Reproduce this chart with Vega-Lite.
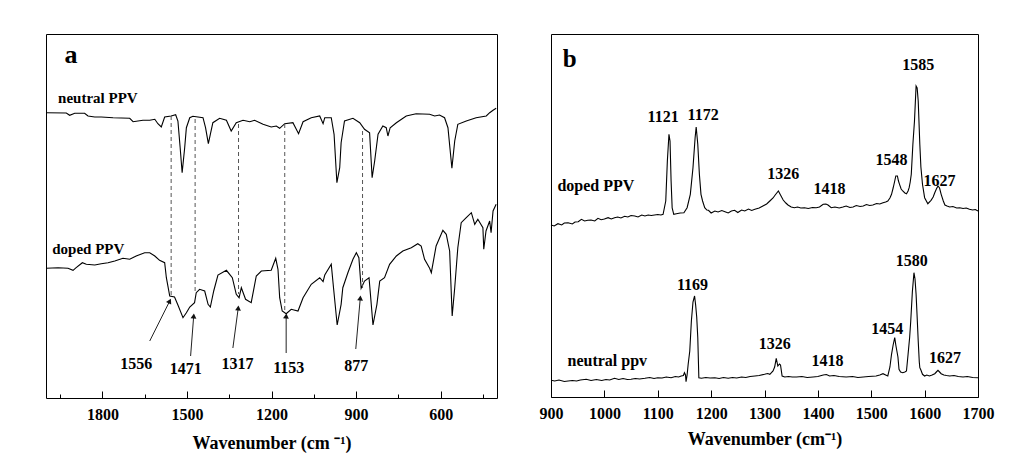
{
  "$schema": "https://vega.github.io/schema/vega-lite/v6.json",
  "background": "white",
  "padding": {"left": 43, "top": 33, "right": 0, "bottom": 0},
  "bounds": "flush",
  "spacing": 54,
  "config": {
    "view": {"stroke": "black", "strokeWidth": 1},
    "font": "Liberation Serif",
    "axisX": {
      "domain": false, "grid": false, "ticks": true, "tickColor": "black", "tickWidth": 1,
      "labelFont": "Liberation Serif", "labelFontSize": 16, "labelFontWeight": "bold", "labelColor": "black",
      "titleFont": "Liberation Serif", "titleFontSize": 18, "titleFontWeight": "bold", "titleColor": "black",
      "labelFlush": false, "labelOverlap": false, "format": "d", "labelPadding": 15, "titlePadding": 9
    }
  },
  "datasets": {
    "a_neutral": [
      {"wn":1999,"v":285.3},{"wn":1928,"v":285},{"wn":1916,"v":282.7},{"wn":1898,"v":284.7},{"wn":1863,"v":284.7},{"wn":1851,"v":282},{"wn":1827,"v":281},{"wn":1804,"v":281},{"wn":1762,"v":280.3},{"wn":1703,"v":279.7},{"wn":1691,"v":276.3},{"wn":1656,"v":277.7},{"wn":1632,"v":277.7},{"wn":1614,"v":278.7},{"wn":1603,"v":274.3},{"wn":1591,"v":271},{"wn":1579,"v":281},{"wn":1556,"v":282},{"wn":1540,"v":283.3},{"wn":1532,"v":277},{"wn":1524,"v":250.3},{"wn":1517,"v":225.3},{"wn":1508,"v":250.3},{"wn":1502,"v":270.3},{"wn":1490,"v":280.3},{"wn":1479,"v":281.7},{"wn":1443,"v":280.3},{"wn":1434,"v":270.3},{"wn":1424,"v":254.3},{"wn":1417,"v":263.7},{"wn":1408,"v":275.3},{"wn":1384,"v":279.7},{"wn":1360,"v":277.7},{"wn":1343,"v":267},{"wn":1325,"v":275.3},{"wn":1301,"v":277.7},{"wn":1277,"v":276.3},{"wn":1260,"v":277.7},{"wn":1230,"v":273.7},{"wn":1201,"v":271},{"wn":1183,"v":272},{"wn":1171,"v":269.7},{"wn":1153,"v":274.3},{"wn":1124,"v":275.3},{"wn":1112,"v":268.7},{"wn":1104,"v":264.3},{"wn":1088,"v":276.3},{"wn":1059,"v":280.3},{"wn":1029,"v":282},{"wn":1017,"v":274.3},{"wn":1011,"v":280.3},{"wn":988,"v":280.3},{"wn":978,"v":263.7},{"wn":968,"v":215.3},{"wn":958,"v":230.3},{"wn":953,"v":255.3},{"wn":941,"v":277},{"wn":911,"v":279.7},{"wn":887,"v":275.3},{"wn":870,"v":268.7},{"wn":852,"v":265.3},{"wn":843,"v":220.3},{"wn":834,"v":237},{"wn":822,"v":263.7},{"wn":805,"v":272},{"wn":793,"v":270.3},{"wn":787,"v":262},{"wn":779,"v":270.3},{"wn":757,"v":275.3},{"wn":722,"v":282},{"wn":687,"v":284.3},{"wn":639,"v":283.7},{"wn":621,"v":282},{"wn":604,"v":283},{"wn":586,"v":280.3},{"wn":574,"v":270.3},{"wn":560,"v":229.7},{"wn":550,"v":257},{"wn":539,"v":273.7},{"wn":509,"v":277},{"wn":474,"v":280.3},{"wn":438,"v":282},{"wn":426,"v":285.3},{"wn":414,"v":287.7},{"wn":403,"v":289.7}
    ],
    "a_doped": [
      {"wn":1999,"v":129.7},{"wn":1957,"v":130.3},{"wn":1922,"v":129.7},{"wn":1904,"v":127.7},{"wn":1893,"v":130.3},{"wn":1871,"v":135.3},{"wn":1857,"v":133.7},{"wn":1827,"v":133},{"wn":1804,"v":134.3},{"wn":1780,"v":135.3},{"wn":1756,"v":137},{"wn":1727,"v":139.7},{"wn":1703,"v":138.7},{"wn":1680,"v":142},{"wn":1650,"v":145.3},{"wn":1632,"v":145.3},{"wn":1614,"v":142},{"wn":1597,"v":137.7},{"wn":1579,"v":135.3},{"wn":1573,"v":120.3},{"wn":1561,"v":102},{"wn":1544,"v":101},{"wn":1532,"v":93},{"wn":1514,"v":80.3},{"wn":1502,"v":85.3},{"wn":1490,"v":91},{"wn":1473,"v":95.3},{"wn":1467,"v":105.3},{"wn":1455,"v":108.7},{"wn":1437,"v":107},{"wn":1425,"v":93.7},{"wn":1417,"v":91},{"wn":1405,"v":107},{"wn":1390,"v":123},{"wn":1360,"v":127.7},{"wn":1339,"v":120.3},{"wn":1325,"v":103.7},{"wn":1315,"v":100.3},{"wn":1307,"v":110.3},{"wn":1292,"v":98.7},{"wn":1272,"v":95.3},{"wn":1254,"v":122},{"wn":1236,"v":127},{"wn":1201,"v":127.7},{"wn":1185,"v":139.7},{"wn":1177,"v":128.7},{"wn":1171,"v":100.3},{"wn":1162,"v":87},{"wn":1148,"v":84.3},{"wn":1130,"v":88.7},{"wn":1106,"v":87},{"wn":1088,"v":100.3},{"wn":1059,"v":113.7},{"wn":1029,"v":120.3},{"wn":1017,"v":116.3},{"wn":1011,"v":123},{"wn":988,"v":133.7},{"wn":980,"v":110.3},{"wn":967,"v":73},{"wn":953,"v":93.7},{"wn":947,"v":110.3},{"wn":929,"v":125.3},{"wn":911,"v":138.7},{"wn":899,"v":145.3},{"wn":890,"v":140.3},{"wn":882,"v":109.7},{"wn":870,"v":117},{"wn":854,"v":120.3},{"wn":850,"v":107},{"wn":840,"v":73},{"wn":826,"v":93.7},{"wn":816,"v":117},{"wn":799,"v":120.3},{"wn":781,"v":133.7},{"wn":757,"v":142},{"wn":734,"v":147},{"wn":704,"v":150.3},{"wn":681,"v":154.3},{"wn":669,"v":152},{"wn":657,"v":138.7},{"wn":639,"v":129.7},{"wn":633,"v":125.3},{"wn":616,"v":152},{"wn":592,"v":167.7},{"wn":580,"v":163.7},{"wn":568,"v":147},{"wn":559,"v":82},{"wn":550,"v":110.3},{"wn":539,"v":150.3},{"wn":527,"v":175.3},{"wn":509,"v":180.3},{"wn":491,"v":185.3},{"wn":479,"v":173.7},{"wn":468,"v":178.7},{"wn":450,"v":170.3},{"wn":447,"v":148.7},{"wn":439,"v":167},{"wn":426,"v":177},{"wn":421,"v":165.3},{"wn":414,"v":187},{"wn":403,"v":193.7}
    ],
    "a_dash": [
      {"wn":1556,"top":282,"bottom":101},{"wn":1471,"top":279,"bottom":105},{"wn":1317,"top":274,"bottom":104},{"wn":1153,"top":274,"bottom":87},{"wn":877,"top":267,"bottom":110}
    ],
    "a_arrow": [
      {"label":"1556","wn1":1632,"v1":57,"wn2":1561,"v2":97},
      {"label":"1471","wn1":1487,"v1":42,"wn2":1476,"v2":82},
      {"label":"1317","wn1":1337,"v1":50,"wn2":1318,"v2":90},
      {"label":"1153","wn1":1148,"v1":45,"wn2":1148,"v2":82},
      {"label":"877","wn1":901,"v1":49,"wn2":885,"v2":100}
    ],
    "a_peaks": [
      {"label":"1556","wn":1680,"v":34},{"label":"1471","wn":1504,"v":29},{"label":"1317","wn":1321,"v":34},{"label":"1153","wn":1139,"v":30},{"label":"877","wn":899,"v":32}
    ],
    "a_names": [
      {"label":"neutral PPV","wn":1957,"v":300},{"label":"doped PPV","wn":1978,"v":149}
    ],
    "b_doped": [
      {"wn":900,"v":172},{"wn":906,"v":171},{"wn":913,"v":173.3},{"wn":920,"v":172},{"wn":925,"v":174},{"wn":932,"v":174.3},{"wn":940,"v":173},{"wn":945,"v":175},{"wn":951,"v":175.3},{"wn":957,"v":177.7},{"wn":963,"v":176},{"wn":969,"v":176.7},{"wn":975,"v":177},{"wn":982,"v":176},{"wn":988,"v":178.7},{"wn":994,"v":177.3},{"wn":1000,"v":178},{"wn":1007,"v":179.3},{"wn":1013,"v":178},{"wn":1019,"v":179.3},{"wn":1025,"v":180},{"wn":1031,"v":179},{"wn":1038,"v":180.7},{"wn":1044,"v":180},{"wn":1050,"v":181.5},{"wn":1057,"v":181},{"wn":1063,"v":180},{"wn":1070,"v":182},{"wn":1076,"v":181},{"wn":1082,"v":182},{"wn":1088,"v":181.5},{"wn":1094,"v":182},{"wn":1100,"v":182.5},{"wn":1106,"v":182},{"wn":1110,"v":182.7},{"wn":1115,"v":196},{"wn":1118,"v":236},{"wn":1121,"v":262.7},{"wn":1123,"v":256},{"wn":1125,"v":216},{"wn":1127,"v":189},{"wn":1130,"v":182.7},{"wn":1135,"v":183.3},{"wn":1142,"v":184},{"wn":1149,"v":184.3},{"wn":1155,"v":189.3},{"wn":1161,"v":202.7},{"wn":1166,"v":229.3},{"wn":1170,"v":259.3},{"wn":1172,"v":270},{"wn":1175,"v":252.7},{"wn":1178,"v":222.7},{"wn":1181,"v":202.7},{"wn":1184,"v":196},{"wn":1188,"v":189.3},{"wn":1192,"v":187},{"wn":1195,"v":186.7},{"wn":1200,"v":184},{"wn":1207,"v":186},{"wn":1213,"v":185},{"wn":1220,"v":186.5},{"wn":1226,"v":185.3},{"wn":1232,"v":184},{"wn":1238,"v":186},{"wn":1244,"v":186.7},{"wn":1250,"v":184.5},{"wn":1257,"v":187},{"wn":1263,"v":186},{"wn":1270,"v":188},{"wn":1276,"v":186.5},{"wn":1282,"v":187.7},{"wn":1290,"v":189},{"wn":1297,"v":191},{"wn":1304,"v":193},{"wn":1310,"v":196},{"wn":1316,"v":199},{"wn":1320,"v":202},{"wn":1326,"v":206},{"wn":1330,"v":202},{"wn":1335,"v":197},{"wn":1340,"v":194},{"wn":1344,"v":192},{"wn":1350,"v":190},{"wn":1356,"v":189.3},{"wn":1362,"v":190},{"wn":1368,"v":189},{"wn":1375,"v":189.3},{"wn":1382,"v":188.5},{"wn":1390,"v":189.5},{"wn":1397,"v":189.3},{"wn":1403,"v":190},{"wn":1410,"v":192.7},{"wn":1415,"v":193},{"wn":1419,"v":192},{"wn":1425,"v":189.3},{"wn":1432,"v":190},{"wn":1440,"v":189},{"wn":1447,"v":190},{"wn":1453,"v":191},{"wn":1460,"v":189.5},{"wn":1466,"v":190},{"wn":1472,"v":191.5},{"wn":1479,"v":190.5},{"wn":1485,"v":191},{"wn":1491,"v":192.5},{"wn":1497,"v":191.5},{"wn":1503,"v":192},{"wn":1510,"v":193.5},{"wn":1516,"v":193},{"wn":1522,"v":194.3},{"wn":1527,"v":195},{"wn":1531,"v":196},{"wn":1535,"v":199},{"wn":1538,"v":202.7},{"wn":1541,"v":209},{"wn":1544,"v":216},{"wn":1546,"v":221},{"wn":1549,"v":221},{"wn":1551,"v":216},{"wn":1553,"v":212.7},{"wn":1556,"v":208},{"wn":1559,"v":206},{"wn":1563,"v":204},{"wn":1566,"v":203.3},{"wn":1569,"v":206},{"wn":1571,"v":209.3},{"wn":1573,"v":215},{"wn":1575,"v":222.7},{"wn":1578,"v":252.7},{"wn":1581,"v":276},{"wn":1584,"v":311},{"wn":1586,"v":309},{"wn":1588,"v":296},{"wn":1591,"v":252.7},{"wn":1593,"v":230},{"wn":1596,"v":212.7},{"wn":1600,"v":199.3},{"wn":1606,"v":193.3},{"wn":1612,"v":196.7},{"wn":1616,"v":200},{"wn":1619,"v":204.3},{"wn":1622,"v":208},{"wn":1625,"v":211},{"wn":1628,"v":209},{"wn":1631,"v":202.7},{"wn":1635,"v":196},{"wn":1638,"v":192},{"wn":1642,"v":191},{"wn":1647,"v":190},{"wn":1653,"v":190.5},{"wn":1660,"v":189},{"wn":1666,"v":189.3},{"wn":1672,"v":188.5},{"wn":1678,"v":189},{"wn":1684,"v":187.7},{"wn":1690,"v":187},{"wn":1695,"v":187.5},{"wn":1700,"v":186}
    ],
    "b_neutral": [
      {"wn":900,"v":16.7},{"wn":907,"v":16},{"wn":915,"v":17},{"wn":925,"v":15.5},{"wn":932,"v":16},{"wn":940,"v":16.5},{"wn":948,"v":16},{"wn":955,"v":17},{"wn":966,"v":17.7},{"wn":975,"v":16.5},{"wn":985,"v":17.5},{"wn":995,"v":16.5},{"wn":1003,"v":17.5},{"wn":1010,"v":17},{"wn":1019,"v":18.7},{"wn":1027,"v":17.5},{"wn":1035,"v":18.5},{"wn":1043,"v":17.5},{"wn":1050,"v":17.7},{"wn":1058,"v":18.5},{"wn":1066,"v":18},{"wn":1076,"v":18.7},{"wn":1085,"v":19.5},{"wn":1093,"v":18.5},{"wn":1100,"v":19.3},{"wn":1108,"v":19},{"wn":1116,"v":20},{"wn":1125,"v":19.3},{"wn":1133,"v":20.5},{"wn":1139,"v":20},{"wn":1144,"v":21},{"wn":1148,"v":21.5},{"wn":1150,"v":24.3},{"wn":1152,"v":22},{"wn":1153,"v":15.3},{"wn":1155,"v":22},{"wn":1157,"v":32.7},{"wn":1160,"v":46},{"wn":1163,"v":76},{"wn":1166,"v":95},{"wn":1169,"v":101},{"wn":1171,"v":92},{"wn":1173,"v":80},{"wn":1175,"v":59.3},{"wn":1177,"v":19.3},{"wn":1182,"v":18.7},{"wn":1190,"v":19.5},{"wn":1198,"v":19},{"wn":1207,"v":19.3},{"wn":1215,"v":18.5},{"wn":1223,"v":19.5},{"wn":1232,"v":18.7},{"wn":1240,"v":19.5},{"wn":1248,"v":19},{"wn":1257,"v":20},{"wn":1265,"v":19.5},{"wn":1273,"v":20.5},{"wn":1282,"v":21},{"wn":1290,"v":21.5},{"wn":1300,"v":22.7},{"wn":1306,"v":23.5},{"wn":1310,"v":22.7},{"wn":1316,"v":26},{"wn":1319,"v":30},{"wn":1322,"v":38.7},{"wn":1325,"v":31},{"wn":1328,"v":33},{"wn":1330,"v":32},{"wn":1333,"v":21},{"wn":1338,"v":20},{"wn":1345,"v":20.5},{"wn":1352,"v":20},{"wn":1360,"v":20},{"wn":1370,"v":20.5},{"wn":1380,"v":19.5},{"wn":1391,"v":20},{"wn":1400,"v":20.5},{"wn":1410,"v":22},{"wn":1416,"v":22.5},{"wn":1422,"v":21},{"wn":1430,"v":21.5},{"wn":1440,"v":20.5},{"wn":1453,"v":20},{"wn":1465,"v":20.5},{"wn":1475,"v":19.5},{"wn":1485,"v":20},{"wn":1495,"v":20.5},{"wn":1509,"v":21},{"wn":1516,"v":22},{"wn":1522,"v":23.3},{"wn":1527,"v":22},{"wn":1531,"v":21},{"wn":1535,"v":30},{"wn":1538,"v":42.7},{"wn":1541,"v":52},{"wn":1544,"v":59.3},{"wn":1546,"v":52},{"wn":1548,"v":46},{"wn":1550,"v":40},{"wn":1552,"v":27.7},{"wn":1555,"v":25},{"wn":1559,"v":24.3},{"wn":1563,"v":25},{"wn":1566,"v":26},{"wn":1569,"v":42.7},{"wn":1572,"v":60},{"wn":1574,"v":76},{"wn":1577,"v":105},{"wn":1580,"v":124.3},{"wn":1582,"v":118},{"wn":1584,"v":102.7},{"wn":1586,"v":80},{"wn":1588,"v":56},{"wn":1590,"v":35},{"wn":1591,"v":29.3},{"wn":1593,"v":27},{"wn":1596,"v":22.7},{"wn":1600,"v":21},{"wn":1604,"v":22},{"wn":1609,"v":21},{"wn":1614,"v":22},{"wn":1619,"v":23.3},{"wn":1622,"v":25},{"wn":1625,"v":26.7},{"wn":1628,"v":25},{"wn":1631,"v":23.3},{"wn":1636,"v":22},{"wn":1641,"v":21.5},{"wn":1647,"v":21},{"wn":1655,"v":21.5},{"wn":1663,"v":20.5},{"wn":1672,"v":20},{"wn":1680,"v":20.5},{"wn":1690,"v":19.5},{"wn":1700,"v":19.3}
    ],
    "b_peaks": [
      {"label":"1121","wn":1110,"v":280.3},{"label":"1172","wn":1185,"v":281.7},{"label":"1326","wn":1335,"v":222.7},{"label":"1418","wn":1422,"v":207.7},{"label":"1548","wn":1538,"v":236.7},{"label":"1585","wn":1588,"v":332},{"label":"1627","wn":1628,"v":216},
      {"label":"1169","wn":1165,"v":111.7},{"label":"1326","wn":1319,"v":52.7},{"label":"1418","wn":1418,"v":36},{"label":"1454","wn":1530,"v":67.7},{"label":"1580","wn":1576,"v":136},{"label":"1627","wn":1638,"v":39.3}
    ],
    "b_names": [
      {"label":"doped PPV","wn":912,"v":211},{"label":"neutral ppv","wn":931,"v":36}
    ]
  },
  "hconcat": [
    {
      "width": 451,
      "height": 364,
      "layer": [
        {
          "data": {"name": "a_neutral"},
          "mark": {"type": "line", "color": "black", "strokeWidth": 1.1},
          "encoding": {
            "x": {"field": "wn", "type": "quantitative",
                  "scale": {"domain": [400, 2000], "reverse": true, "nice": false, "zero": false},
                  "axis": {"values": [1950,1800,1650,1500,1350,1200,1050,900,750,600,450],
                           "labelExpr": "datum.value % 300 === 0 ? datum.label : ''",
                           "tickSize": {"condition": {"test": "datum.value % 300 === 0", "value": -7}, "value": -4},
                           "title": "Wavenumber (cm ⁻¹)"}},
            "y": {"field": "v", "type": "quantitative", "scale": {"domain": [0, 364], "nice": false, "zero": false}, "axis": null}
          }
        },
        {
          "data": {"name": "a_doped"},
          "mark": {"type": "line", "color": "black", "strokeWidth": 1.1},
          "encoding": {
            "x": {"field": "wn", "type": "quantitative"},
            "y": {"field": "v", "type": "quantitative"}
          }
        },
        {
          "data": {"name": "a_dash"},
          "mark": {"type": "rule", "color": "#555555", "strokeWidth": 1, "strokeDash": [4, 3]},
          "encoding": {
            "x": {"field": "wn", "type": "quantitative"},
            "y": {"field": "top", "type": "quantitative"},
            "y2": {"field": "bottom"}
          }
        },
        {
          "data": {"name": "a_arrow"},
          "mark": {"type": "rule", "color": "#222222", "strokeWidth": 1},
          "encoding": {
            "x": {"field": "wn1", "type": "quantitative"},
            "x2": {"field": "wn2"},
            "y": {"field": "v1", "type": "quantitative"},
            "y2": {"field": "v2"}
          }
        },
        {
          "data": {"name": "a_arrow"},
          "mark": {"type": "point", "shape": "triangle-up", "filled": true, "color": "#111111", "size": 34, "opacity": 1},
          "encoding": {
            "x": {"field": "wn2", "type": "quantitative"},
            "y": {"field": "v2", "type": "quantitative"},
            "angle": {"condition": {"test": "datum.label === '1556'", "value": 27}, "value": 5}
          }
        },
        {
          "data": {"name": "a_peaks"},
          "mark": {"type": "text", "font": "Liberation Serif", "fontSize": 16, "fontWeight": "bold", "color": "black", "align": "center", "baseline": "middle"},
          "encoding": {
            "x": {"field": "wn", "type": "quantitative"},
            "y": {"field": "v", "type": "quantitative"},
            "text": {"field": "label"}
          }
        },
        {
          "data": {"name": "a_names"},
          "mark": {"type": "text", "font": "Liberation Serif", "fontSize": 15, "fontWeight": "bold", "color": "black", "align": "left", "baseline": "middle"},
          "encoding": {
            "x": {"field": "wn", "type": "quantitative"},
            "y": {"field": "v", "type": "quantitative"},
            "text": {"field": "label"}
          }
        },
        {
          "data": {"values": [{"label": "a", "wn": 1934, "v": 343}]},
          "mark": {"type": "text", "font": "Liberation Serif", "fontSize": 26, "fontWeight": "bold", "color": "black", "align": "left", "baseline": "middle"},
          "encoding": {
            "x": {"field": "wn", "type": "quantitative"},
            "y": {"field": "v", "type": "quantitative"},
            "text": {"field": "label"}
          }
        }
      ]
    },
    {
      "width": 427,
      "height": 363,
      "layer": [
        {
          "data": {"name": "b_doped"},
          "mark": {"type": "line", "color": "black", "strokeWidth": 1.1},
          "encoding": {
            "x": {"field": "wn", "type": "quantitative",
                  "scale": {"domain": [900, 1700], "nice": false, "zero": false},
                  "axis": {"values": [900,950,1000,1050,1100,1150,1200,1250,1300,1350,1400,1450,1500,1550,1600,1650,1700],
                           "labelExpr": "datum.value % 100 === 0 ? datum.label : ''",
                           "tickSize": {"condition": {"test": "datum.value % 100 === 0", "value": -7}, "value": -4},
                           "title": "Wavenumber   (cm⁻¹)"}},
            "y": {"field": "v", "type": "quantitative", "scale": {"domain": [0, 363], "nice": false, "zero": false}, "axis": null}
          }
        },
        {
          "data": {"name": "b_neutral"},
          "mark": {"type": "line", "color": "black", "strokeWidth": 1.1},
          "encoding": {
            "x": {"field": "wn", "type": "quantitative"},
            "y": {"field": "v", "type": "quantitative"}
          }
        },
        {
          "data": {"name": "b_peaks"},
          "mark": {"type": "text", "font": "Liberation Serif", "fontSize": 16, "fontWeight": "bold", "color": "black", "align": "center", "baseline": "middle"},
          "encoding": {
            "x": {"field": "wn", "type": "quantitative"},
            "y": {"field": "v", "type": "quantitative"},
            "text": {"field": "label"}
          }
        },
        {
          "data": {"name": "b_names"},
          "mark": {"type": "text", "font": "Liberation Serif", "fontSize": 16, "fontWeight": "bold", "color": "black", "align": "left", "baseline": "middle"},
          "encoding": {
            "x": {"field": "wn", "type": "quantitative"},
            "y": {"field": "v", "type": "quantitative"},
            "text": {"field": "label"}
          }
        },
        {
          "data": {"values": [{"label": "b", "wn": 922, "v": 338}]},
          "mark": {"type": "text", "font": "Liberation Serif", "fontSize": 25, "fontWeight": "bold", "color": "black", "align": "left", "baseline": "middle"},
          "encoding": {
            "x": {"field": "wn", "type": "quantitative"},
            "y": {"field": "v", "type": "quantitative"},
            "text": {"field": "label"}
          }
        }
      ]
    }
  ]
}
